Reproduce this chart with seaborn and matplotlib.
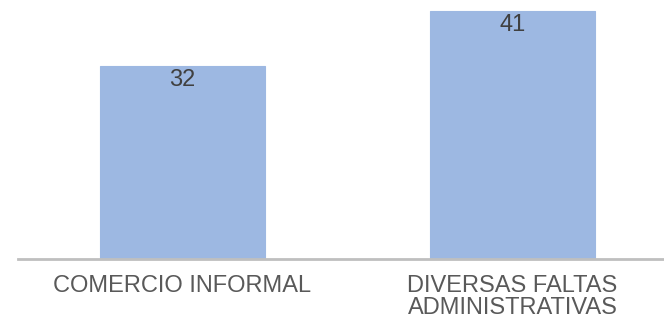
import matplotlib
matplotlib.use("Agg")
import matplotlib.pyplot as plt
import seaborn as sns
import pandas as pd

categories = ["COMERCIO INFORMAL", "DIVERSAS FALTAS\nADMINISTRATIVAS"]
values = [32, 41]

sns.set_theme(style="white")
plt.rcParams['font.family'] = ['Liberation Sans', 'DejaVu Sans']
plt.rcParams['hatch.linewidth'] = 0.8
plt.rcParams['hatch.color'] = '#4A7BCF'

df = pd.DataFrame({"cat": categories, "val": values})

fig = plt.figure(figsize=(6.64, 3.22), dpi=100)
# axes placed so the baseline sits near the bottom like the reference
ax = fig.add_axes([17.5 / 664, 63 / 322, 660 / 664, 259 / 322])

sns.barplot(data=df, x="cat", y="val", width=0.5, color="#CFDFF5",
            saturation=1, ax=ax)

for p in ax.patches:
    p.set_hatch('-' * 25)
    p.set_edgecolor('#9DB8E2')
    p.set_linewidth(0.8)

for i, v in enumerate(values):
    ax.annotate(str(v), (i, v), xytext=(0, -2), textcoords="offset points",
                ha="center", va="top", fontsize=17, color="#404040")

ax.set_xlim(-0.5, 1.5)
ax.set_ylim(0, 42.9)
ax.set_xlabel("")
ax.set_ylabel("")
ax.set_yticks([])
ax.tick_params(axis="x", length=0, pad=11.5, labelsize=17, labelcolor="#595959")
for lbl in ax.get_xticklabels():
    lbl.set_linespacing(1.0)

for side in ["top", "right", "left"]:
    ax.spines[side].set_visible(False)
ax.spines["bottom"].set_color("#BFBFBF")
ax.spines["bottom"].set_linewidth(2)

fig.savefig("out.png", dpi=100)
